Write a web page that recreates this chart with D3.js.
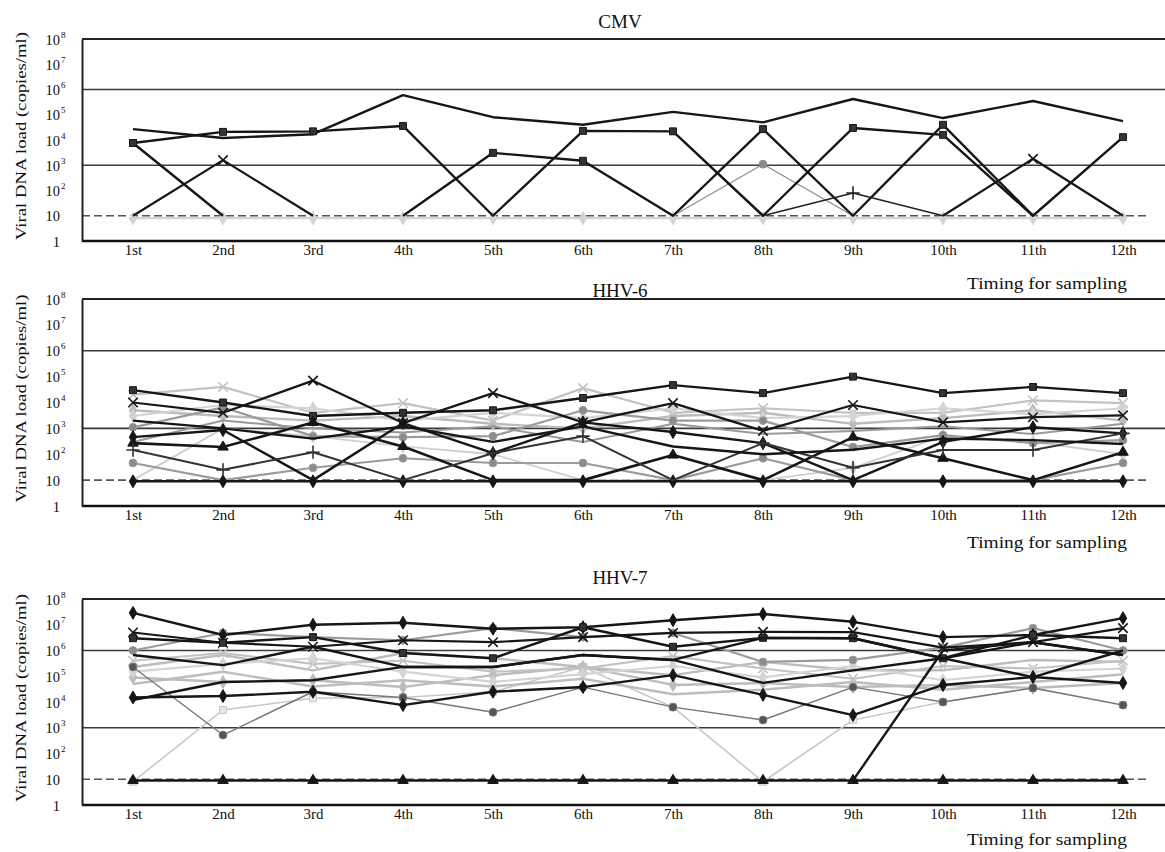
<!DOCTYPE html>
<html><head><meta charset="utf-8">
<script src="https://cdn.jsdelivr.net/npm/d3@7"></script>
<style>body{margin:0;background:#fff}svg{display:block}</style>
</head><body>
<svg id="chart" width="1165" height="852"></svg>
<script>
// ---------- DATA ----------
const categories = ["1st","2nd","3rd","4th","5th","6th","7th","8th","9th","10th","11th","12th"];
const yTickValues = [1,10,100,1000,10000,100000,1000000,10000000,100000000];
const yTickBase   = ["1","10","10","10","10","10","10","10","10"];
const yTickExp    = ["","","2","3","4","5","6","7","8"];
const gridValues = [1000, 1000000];
const detectionLimit = 10;
const panelTitles = ["CMV","HHV-6","HHV-7"];
const xAxisTitle = "Timing for sampling";
const yAxisTitle = "Viral  DNA load (copies/ml)";

// CMV (10 = undetectable, null = no segment)
const cmvBase = [8,8,8,8,8,8,8,8,8,8,8,8];
const cmvP1 = [27000,12000,17000,600000,80000,40000,130000,50000,420000,74000,350000,56000];
const cmvP2 = [7600,21000,22000,36000,10,23000,22000,10,30000,16000,10,13000];
const cmvP3 = [7600,10,null,10,3100,1500,10,27000,10,40000,10,null];
const cmvP4 = [10,1600,10,null,null,null,null,null,null,10,1800,10];
const cmvP5 = [null,null,null,null,null,null,10,1100,10,null,null,null];
const cmvP6 = [null,null,null,null,null,null,null,10,80,10,null,null];
const cmvSeries = [cmvBase,cmvP5,cmvP1,cmvP2,cmvP3,cmvP4,cmvP6];
const cmvStyleKeys = ["paleLine","grayCircleThin","blackLine","blackSquare","blackSquare","blackX","blackPlusThin"];

// HHV-6
const h6K = [5000,3000,2000,3000,1500,1000,3000,4000,1500,2500,5000,2000];
const h6B = [20000,40000,4000,9500,2000,36000,4000,6000,4000,4000,12000,9500];
const h6P = [3000,8000,6000,2000,4000,2500,6000,2500,3000,6000,3500,6000];
const h6I = [10,1000,500,200,100,10,10,10,30,500,300,100];
const h6D = [1100,6500,500,460,500,5000,2000,2000,190,550,270,350];
const h6L = [300,2000,1000,700,1200,300,1500,600,800,1200,600,1500];
const h6H = [46,10,30,70,46,46,10,70,10,10,10,46];
const h6J = [9,9,9,9,9,9,9,9,9,9,9,9];
const h6A = [30000,10000,3000,4000,5000,15000,47000,23000,100000,23000,40000,23000];
const h6C = [10000,4000,70000,1600,23000,1700,9500,800,8000,1700,2700,3200];
const h6E = [460,860,10,1600,110,1700,720,270,10,300,1100,640];
const h6F = [270,190,1700,200,10,10,93,10,460,70,10,120];
const h6G = [145,25,120,10,110,500,10,270,30,145,145,640];
const h6M = [2000,1000,400,1200,300,1200,200,100,150,400,350,250];
const h6Series = [h6K,h6B,h6P,h6I,h6D,h6L,h6H,h6J,h6A,h6C,h6E,h6F,h6G,h6M];
const h6StyleKeys = ["lightDiamond","lightX","paleLine","paleDiamond","grayCircle","grayLine","grayCircle","blackDiamond","blackSquare","blackX","blackDiamond","blackTriangle","darkPlus","blackLine"];

// HHV-7
const h7K = [8,4900,14000,15000,25000,230000,6300,8,2000,10000,35000,7600];
const h7F = [230000,670000,170000,800000,500000,230000,110000,360000,170000,170000,430000,360000];
const h7G = [90000,60000,70000,38000,110000,230000,46000,55000,38000,46000,35000,55000];
const h7N = [400000,800000,300000,400000,150000,200000,600000,200000,80000,250000,200000,400000];
const h7O = [150000,300000,500000,150000,60000,120000,250000,90000,250000,70000,150000,200000];
const h7P = [50000,150000,40000,70000,40000,80000,20000,30000,60000,30000,60000,120000];
const h7D = [1000000,4800000,3300000,2500000,7400000,3300000,4800000,360000,430000,1300000,7400000,1000000];
const h7H = [230000,520,25000,15000,4000,38000,6300,2000,38000,10000,35000,7600];
const h7L = [9,9,9,9,9,9,9,9,9,9,9,9];
const h7A = [29000000,4000000,10000000,12000000,7000000,8000000,15000000,26000000,13000000,3300000,4000000,18000000];
const h7B = [5000000,2000000,1400000,2500000,2100000,3300000,4800000,5300000,5200000,1300000,2100000,7400000];
const h7C = [3000000,2000000,3300000,800000,500000,8000000,1400000,3100000,3000000,500000,4000000,3000000];
const h7E = [670000,270000,1400000,230000,230000,670000,430000,3100000,3000000,500000,2100000,670000];
const h7I = [15000,17000,25000,7600,25000,38000,110000,19000,3100,46000,93000,55000];
const h7J = [12000,60000,70000,230000,230000,670000,430000,55000,170000,500000,93000,1000000];
const h7M = [null,null,null,null,null,null,null,null,9,1000000,2100000,670000];
const h7Series = [h7K,h7F,h7G,h7N,h7O,h7P,h7D,h7H,h7L,h7A,h7B,h7C,h7E,h7I,h7J,h7M];
const h7StyleKeys = ["paleSquare","lightLine","lightDiamond","lightX","paleLine","lightLine","grayCircle","darkCircle","blackTriangle","blackDiamond","blackX","blackSquare","blackLine","blackDiamond","blackLine","blackLine"];

// ---------- STYLES ----------
const styles = {
  paleLine:      {stroke:"#d4d4d4", width:2.2, marker:"diamond", mfill:"#d4d4d4"},
  paleDiamond:   {stroke:"#cfcfcf", width:1.8, marker:"diamond", mfill:"#cfcfcf"},
  paleSquare:    {stroke:"#c8c8c8", width:1.6, marker:"square", mfill:"#e8e8e8"},
  lightLine:     {stroke:"#bdbdbd", width:2.4, marker:null},
  lightDiamond:  {stroke:"#bcbcbc", width:2.4, marker:"diamond", mfill:"#bcbcbc"},
  lightX:        {stroke:"#c2c2c2", width:2.2, marker:"x", mfill:"#c2c2c2"},
  grayLine:      {stroke:"#9a9a9a", width:2, marker:null},
  grayCircle:    {stroke:"#9b9b9b", width:2.2, marker:"circle", mfill:"#8c8c8c"},
  grayCircleThin:{stroke:"#8a8a8a", width:1.2, marker:"circle", mfill:"#8a8a8a"},
  darkCircle:    {stroke:"#777", width:1.4, marker:"circle", mfill:"#555"},
  darkPlus:      {stroke:"#333", width:2, marker:"plus", mfill:"#333"},
  blackLine:     {stroke:"#161616", width:2.4, marker:null},
  blackSquare:   {stroke:"#161616", width:2.4, marker:"square", mfill:"#333"},
  blackDiamond:  {stroke:"#161616", width:2.4, marker:"diamond", mfill:"#161616"},
  blackTriangle: {stroke:"#161616", width:2.6, marker:"triangle", mfill:"#161616"},
  blackX:        {stroke:"#161616", width:2.2, marker:"x", mfill:"#161616"},
  blackPlusThin: {stroke:"#222", width:1.6, marker:"plus", mfill:"#222"}
};

// ---------- LAYOUT ----------
const W = 1165, H = 852;
const plotLeft = 82, plotRight = 1166, dashRight = 1150;
const serif = "'Liberation Serif','Times New Roman',serif";
const layout = [
  {top:39,  bottom:241, titleY:28,  timingY:289},
  {top:299, bottom:506, titleY:297, timingY:548},
  {top:599, bottom:805, titleY:584, timingY:845}
];
const panelData = [
  {series:cmvSeries, keys:cmvStyleKeys},
  {series:h6Series,  keys:h6StyleKeys},
  {series:h7Series,  keys:h7StyleKeys}
];

const svg = d3.select("#chart");
const x = d3.scalePoint().domain(categories).range([133, 1123]);

const symbolTypes = {
  square: d3.symbolSquare, diamond: d3.symbolDiamond, triangle: d3.symbolTriangle,
  circle: d3.symbolCircle, x: d3.symbolTimes || d3.symbolCross, plus: d3.symbolPlus || d3.symbolCross
};

layout.forEach((L, pi) => {
  const g = svg.append("g");
  const y = d3.scaleLog().domain([1, 1e8]).range([L.bottom, L.top]);

  // title
  g.append("text").attr("x", 620).attr("y", L.titleY).attr("text-anchor","middle")
    .attr("font-family", serif).attr("font-size", 19).attr("fill","#111").text(panelTitles[pi]);

  // top border
  g.append("line").attr("x1", plotLeft).attr("x2", plotRight).attr("y1", y(1e8)).attr("y2", y(1e8))
    .attr("stroke","#222").attr("stroke-width",2.2);
  // gridlines
  g.selectAll(".grid").data(gridValues).join("line")
    .attr("x1", plotLeft).attr("x2", plotRight).attr("y1", d=>y(d)).attr("y2", d=>y(d))
    .attr("stroke","#3a3a3a").attr("stroke-width",1.6);
  // detection limit dashed
  g.append("line").attr("x1", plotLeft).attr("x2", dashRight)
    .attr("y1", y(detectionLimit)).attr("y2", y(detectionLimit))
    .attr("stroke","#555").attr("stroke-width",1.6).attr("stroke-dasharray","8,4");

  // series
  const pd = panelData[pi];
  const line = d3.line().defined(d => d != null).x((d,i)=>x(categories[i])).y(d=>y(d));
  pd.series.forEach((vals, si) => {
    const st = styles[pd.keys[si]];
    g.append("path").attr("d", line(vals)).attr("fill","none")
      .attr("stroke", st.stroke).attr("stroke-width", st.width).attr("stroke-linejoin","round");
    if (st.marker) {
      const isStroke = st.marker === "x" || st.marker === "plus";
      const sym = d3.symbol().type(symbolTypes[st.marker]).size(isStroke ? 60 : 48);
      const pts = vals.map((v,i)=>({v,i})).filter(p => p.v != null && p.v !== detectionLimit);
      g.selectAll(null).data(pts).join("path")
        .attr("transform", p => `translate(${x(categories[p.i])},${y(p.v)})`)
        .attr("d", sym())
        .attr("fill", isStroke ? "none" : st.mfill)
        .attr("stroke", isStroke ? st.mfill : st.stroke)
        .attr("stroke-width", isStroke ? 1.6 : 1);
    }
  });

  // bottom axis line
  g.append("line").attr("x1", plotLeft).attr("x2", plotRight).attr("y1", L.bottom).attr("y2", L.bottom)
    .attr("stroke","#111").attr("stroke-width",2.6);

  // left axis
  const ax = g.append("g").attr("transform", `translate(${plotLeft},0)`)
    .call(d3.axisLeft(y).tickValues(yTickValues).tickSize(0).tickSizeOuter(0).tickPadding(22)
      .tickFormat((d,i)=>yTickBase[i]));
  ax.select(".domain").attr("stroke","#222").attr("stroke-width",2);
  ax.selectAll(".tick text").attr("font-family", serif).attr("font-size", 14.5).attr("fill","#111")
    .attr("dy","0.35em");
  ax.selectAll(".tick").each(function(d,i){
    if (yTickExp[i]) {
      d3.select(this).append("text").attr("x", -21).attr("y", -2)
        .attr("font-family", serif).attr("font-size", 9).attr("fill","#111")
        .attr("text-anchor","start").text(yTickExp[i]);
    }
  });

  // bottom tick labels
  const bx = g.append("g").attr("transform", `translate(0,${L.bottom})`)
    .call(d3.axisBottom(x).tickSize(0).tickPadding(2));
  bx.select(".domain").remove();
  bx.selectAll(".tick text").attr("font-family", serif).attr("font-size", 15).attr("fill","#111")
    .attr("dy","0.71em").attr("y", 3);

  // x axis title
  g.append("text").attr("x", 1127).attr("y", L.timingY).attr("text-anchor","end")
    .attr("font-family", serif).attr("font-size", 16).attr("fill","#111")
    .attr("textLength", 160).attr("lengthAdjust","spacingAndGlyphs").text(xAxisTitle);

  // y axis title
  const cy = (L.top + L.bottom) / 2 - 4;
  g.append("text").attr("transform", `translate(26,${cy}) rotate(-90)`).attr("text-anchor","middle")
    .attr("font-family", serif).attr("font-size", 15).attr("fill","#111")
    .attr("textLength", 208).attr("lengthAdjust","spacingAndGlyphs").text(yAxisTitle);
});
</script>
</body></html>
